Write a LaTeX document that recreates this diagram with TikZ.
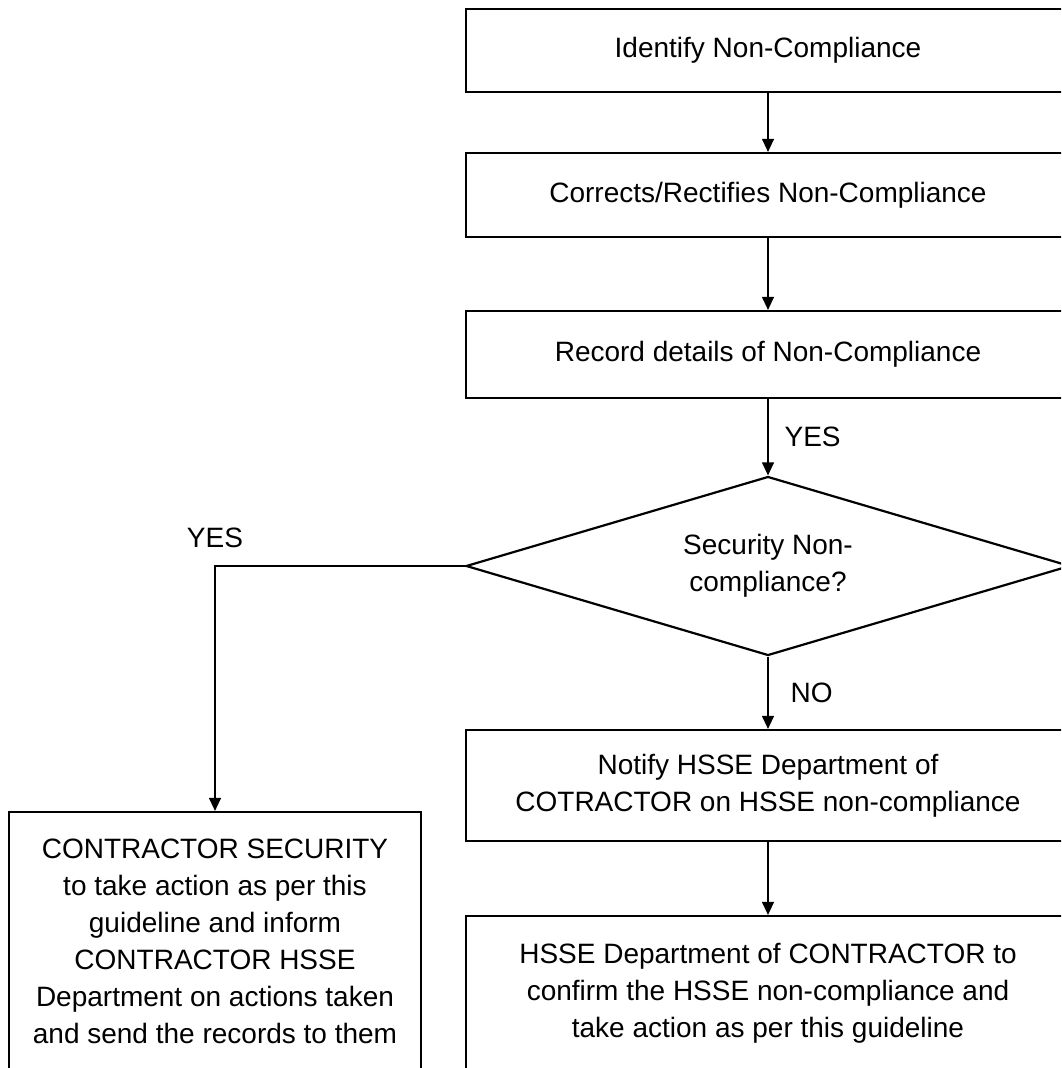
\documentclass[tikz,border=0pt]{standalone}
\usepackage{fontspec}
\setmainfont{Liberation Sans}
\usetikzlibrary{shapes.geometric,arrows.meta,positioning}
\tikzset{
    flow-box/.style = {draw=black, fill=white, line width=2.2pt, rectangle, minimum width=604pt, inner sep=0pt, align=center, font=\fontsize{28}{37}\selectfont},
    flow-diamond/.style = {draw=black, fill=white, line width=2.2pt, diamond, aspect=3.37, minimum width=604pt, minimum height=179pt, inner sep=0pt, align=center, font=\fontsize{28}{37}\selectfont},
    flow-arrow/.style = {draw=black, line width=1.2pt, -{Triangle[length=13pt,width=12pt]}},
    flow-label/.style = {inner sep=0pt, font=\fontsize{28}{37}\selectfont},
}

\begin{document}
\begin{tikzpicture}[x=1pt, y=-1pt]
\path[use as bounding box, fill=white] (0,0) rectangle (1061,1068);
\clip (0,0) rectangle (1061,1068);
\node[flow-box, minimum height=83pt] (identify) at (768,50.5) {Identify Non-Compliance};
\node[flow-box, minimum height=84pt] (correct) at (768,195) {Corrects/Rectifies Non-Compliance};
\node[flow-box, minimum height=87pt] (record) at (768,354.5) {Record details of Non-Compliance};
\node[flow-diamond] (check) at (768,566) {Security Non-\\compliance?};
\node[flow-box, minimum height=111pt] (notify) at (768,785.5) {Notify HSSE Department of\\COTRACTOR on HSSE non-compliance};
\node[flow-box, minimum height=154pt] (confirm) at (768,993) {HSSE Department of CONTRACTOR to\\confirm the HSSE non-compliance and\\take action as per this guideline};
\node[flow-box, minimum width=412pt, minimum height=258pt] (security) at (215,941) {CONTRACTOR SECURITY\\to take action as per this\\guideline and inform\\CONTRACTOR HSSE\\Department on actions taken\\and send the records to them};
\coordinate (turn) at (security.north |- check.west);
\draw[flow-arrow] (identify) -- (correct);
\draw[flow-arrow] (correct) -- (record);
\draw[flow-arrow] (record) -- node[flow-label, right=16pt] (yes-down) {YES} (check);
\draw[flow-arrow] (check) -- node[flow-label, right=22pt] (no-down) {NO} (notify);
\draw[flow-arrow] (notify) -- (confirm);
\draw[flow-arrow] (check.west) -- (turn) -- (security.north);
\node[flow-label, above=18pt of turn] (yes-left) {YES};
\end{tikzpicture}
\end{document}
